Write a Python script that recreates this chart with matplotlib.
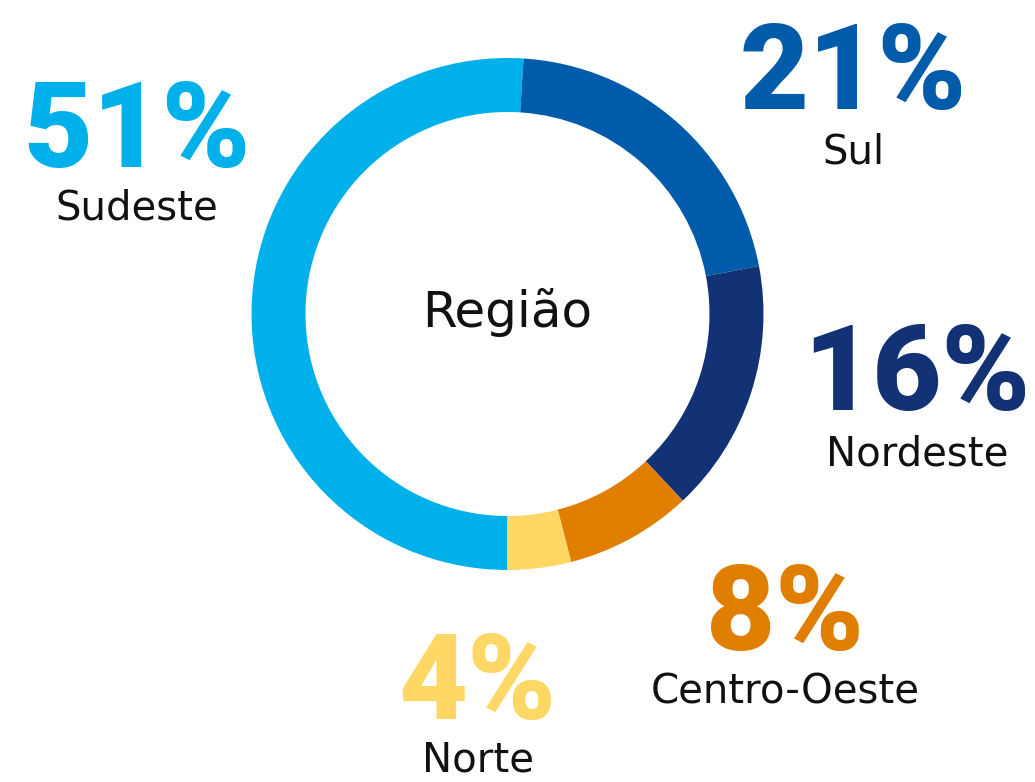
import matplotlib
matplotlib.use("Agg")
import matplotlib.pyplot as plt

regions = ["Sudeste", "Sul", "Nordeste", "Centro-Oeste", "Norte"]
values = [51, 21, 16, 8, 4]
colors = ["#00B0EA", "#005CAA", "#133275", "#E07E00", "#FFD764"]
pct_labels = ["51%", "21%", "16%", "8%", "4%"]
center_title = "Região"

W, H = 1035, 782
fig = plt.figure(figsize=(W / 100, H / 100), dpi=100)
ax = fig.add_axes([0, 0, 1, 1])
ax.set_xlim(0, W)
ax.set_ylim(0, H)
ax.set_aspect("equal")
ax.axis("off")

cx, cy, r = 507.5, H - 314, 256
ax.pie(values, colors=colors, startangle=270, counterclock=False,
       center=(cx, cy), radius=r,
       wedgeprops=dict(width=54, edgecolor="none", linewidth=0))
ax.set_xlim(0, W)
ax.set_ylim(0, H)

# label positions (pixel coords: x center, baseline y of pct, baseline y of name)
pos = {
    "Sudeste": (137, 167, 220),
    "Sul": (853, 109, 163),
    "Nordeste": (917, 410, 465),
    "Centro-Oeste": (785, 650, 703),
    "Norte": (478, 719, 772),
}

for name, pct, col in zip(regions, pct_labels, colors):
    x, yb, yn = pos[name]
    ax.text(x, H - yb, pct, ha="center", va="baseline", color=col,
            fontsize=86, fontweight="black", family=["Roboto", "DejaVu Sans"])
    ax.text(x, H - yn, name, ha="center", va="baseline", color="#111111",
            fontsize=29, family=["DejaVu Sans"])

ax.text(cx, H - 327, center_title, ha="center", va="baseline", color="#111111",
        fontsize=36, family=["DejaVu Sans"])

fig.savefig("out.png", dpi=100, facecolor="white")
